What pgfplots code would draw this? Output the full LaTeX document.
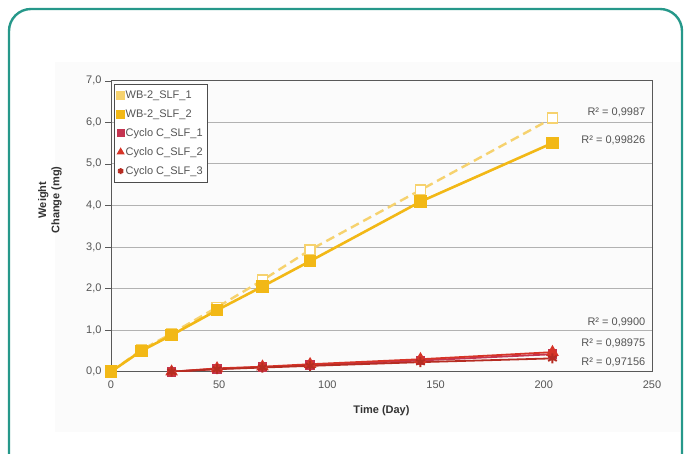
\documentclass[border=0pt]{standalone}
\usepackage{pgfplots}
\pgfplotsset{compat=1.18}
\usepackage{fontspec}
\setmainfont{Liberation Sans}
\definecolor{teal1}{RGB}{38,152,138}
\definecolor{gold}{RGB}{242,184,22}
\definecolor{lgold}{RGB}{246,210,110}
\definecolor{rred}{RGB}{214,52,40}
\definecolor{pred}{RGB}{196,52,80}
\definecolor{txt}{RGB}{85,85,85}
\begin{document}
\begin{tikzpicture}[x=1pt,y=1pt]
\useasboundingbox (0,0) rectangle (684,454);
\begin{scope}
\clip (0,0) rectangle (684,454);
\fill[gray!3] (55,22) rectangle (680,392);
\draw[teal1, line width=2.4pt, rounded corners=22pt] (9,-40) -- (9,445) -- (682,445) -- (682,-40);
\end{scope}
\begin{axis}[
  at={(111pt,82.3pt)}, anchor=south west,
  scale only axis, width=541pt, height=291pt,
  xmin=0, xmax=250, ymin=0, ymax=7,
  xtick={0,50,...,250}, ytick={0,1,...,7},
  ytick pos=left,
  /pgf/number format/assume math mode=true,
  yticklabel style={/pgf/number format/.cd, use comma, fixed, fixed zerofill, precision=1},
  ticklabel style={font=\fontsize{11}{13}\selectfont, text=txt},
  tick align=outside, major tick length=6pt,
  xtick style={draw=none},
  ytick style={draw=gray!70!black},
  ymajorgrids, grid style={gray!60, line width=0.8pt},
  axis line style={gray!70!black, line width=0.8pt},
  xlabel={\textbf{Time (Day)}},
  ylabel={\textbf{\shortstack{Weight\\Change (mg)}}},
  label style={font=\fontsize{11}{12.5}\selectfont, text=black!80},
  xlabel style={at={(axis description cs:0.5,0)}, anchor=center, yshift=-39pt},
  ylabel style={at={(axis description cs:-0.113,0.59)}, anchor=center},
  legend style={at={(0.006,0.99)}, anchor=north west, font=\fontsize{11}{13}\selectfont, text=txt, draw=gray!60!black, line width=0.8pt, row sep=5.5pt, inner xsep=3pt, inner ysep=5pt, cells={anchor=west}},
  legend image code/.code={\draw[#1, only marks, mark options={solid}, mark size=3pt] plot coordinates {(0.05cm,0cm)};},
]
\addplot[lgold, dash pattern=on 9pt off 5pt, line width=2.4pt, mark=square*, mark size=5pt, mark options={solid, fill=white, draw=lgold, line width=1.5pt}]
  coordinates {(0,0) (14,0.52) (28,0.92) (49,1.55) (70,2.2) (92,2.93) (143,4.37) (204,6.1)};
\addlegendentry{WB-2\_SLF\_1}
\addplot[gold, line width=2.6pt, mark=square*, mark size=5pt, mark options={solid, fill=gold}]
  coordinates {(0,0) (14,0.5) (28,0.88) (49,1.48) (70,2.05) (92,2.66) (143,4.09) (204,5.5)};
\addlegendentry{WB-2\_SLF\_2}
\addplot[pred, line width=1.8pt, mark=square*, mark size=4pt, mark options={solid, fill=pred}]
  coordinates {(28,0.0) (49,0.07) (70,0.11) (92,0.16) (143,0.27) (204,0.42)};
\addlegendentry{Cyclo C\_SLF\_1}
\addplot[rred, line width=1.8pt, mark=triangle*, mark size=5.5pt, mark options={solid, fill=rred}]
  coordinates {(28,0.0) (49,0.08) (70,0.12) (92,0.18) (143,0.3) (204,0.47)};
\addlegendentry{Cyclo C\_SLF\_2}
\addplot[rred!85!black, line width=1.8pt, mark=asterisk, mark size=5pt, mark options={solid, line width=2pt}]
  coordinates {(28,0.0) (49,0.06) (70,0.1) (92,0.14) (143,0.23) (204,0.32)};
\addlegendentry{Cyclo C\_SLF\_3}
\begin{scope}[every node/.style={font=\fontsize{11}{13}\selectfont, text=txt, anchor=east, inner sep=0pt}]
\node at (axis cs:247,6.24) {R² = 0,9987};
\node at (axis cs:247,5.57) {R² = 0,99826};
\node at (axis cs:247,1.19) {R² = 0,9900};
\node at (axis cs:247,0.69) {R² = 0,98975};
\node at (axis cs:247,0.23) {R² = 0,97156};
\end{scope}
\end{axis}
\end{tikzpicture}
\end{document}
